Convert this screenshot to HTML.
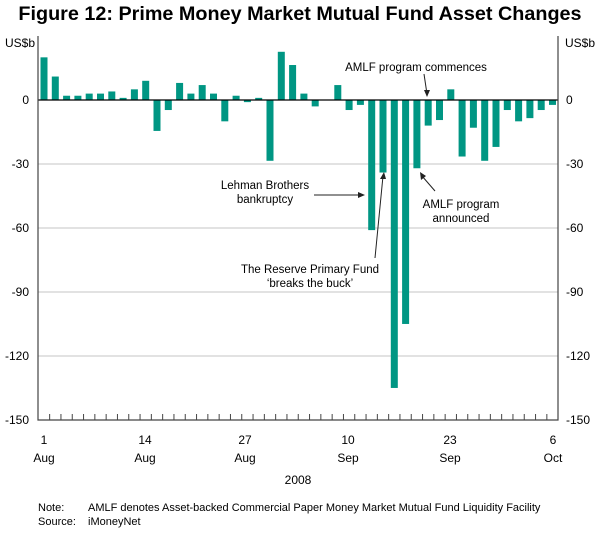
<!DOCTYPE html>
<html><head><meta charset="utf-8"><style>
body{margin:0;background:#fff;width:600px;height:531px;overflow:hidden}
svg text{font-family:"Liberation Sans",Arial,sans-serif;fill:#000}
</style></head><body>
<svg id="s" width="600" height="531" xmlns="http://www.w3.org/2000/svg">
<text x="300" y="20" font-size="19.8" font-weight="bold" text-anchor="middle">Figure 12: Prime Money Market Mutual Fund Asset Changes</text>
<g stroke="#c4c4c4" stroke-width="1">
<line x1="38" y1="164" x2="558" y2="164"/>
<line x1="38" y1="228" x2="558" y2="228"/>
<line x1="38" y1="292" x2="558" y2="292"/>
<line x1="38" y1="356" x2="558" y2="356"/>
</g>
<g id="bars" fill="#009683"></g>
<line x1="38" y1="100" x2="558" y2="100" stroke="#000" stroke-width="1.2"/>
<g stroke="#444" stroke-width="1.2" fill="none">
<polyline points="38,36 38,420 558,420 558,36"/>
</g>
<g id="ticks" stroke="#444" stroke-width="1"></g>
<g font-size="12">
<text x="5" y="47">US$b</text>
<text x="565" y="47">US$b</text>
<g text-anchor="end">
<text x="29" y="104">0</text><text x="29" y="168">-30</text><text x="29" y="232">-60</text><text x="29" y="296">-90</text><text x="29" y="360">-120</text><text x="29" y="424">-150</text>
</g>
<g>
<text x="566" y="104">0</text><text x="566" y="168">-30</text><text x="566" y="232">-60</text><text x="566" y="296">-90</text><text x="566" y="360">-120</text><text x="566" y="424">-150</text>
</g>
<g text-anchor="middle">
<text x="44" y="444">1</text><text x="44" y="462">Aug</text>
<text x="145" y="444">14</text><text x="145" y="462">Aug</text>
<text x="245" y="444">27</text><text x="245" y="462">Aug</text>
<text x="348" y="444">10</text><text x="348" y="462">Sep</text>
<text x="450" y="444">23</text><text x="450" y="462">Sep</text>
<text x="553" y="444">6</text><text x="553" y="462">Oct</text>
<text x="298" y="484">2008</text>
</g>
</g>
<g font-size="11.5" text-anchor="middle">
<text x="416" y="71">AMLF program commences</text>
<text x="461" y="208">AMLF program</text>
<text x="461" y="222">announced</text>
<text x="265" y="189">Lehman Brothers</text>
<text x="265" y="203">bankruptcy</text>
<text x="310" y="273">The Reserve Primary Fund</text>
<text x="310" y="287">‘breaks the buck’</text>
</g>
<g stroke="#222" stroke-width="1" fill="none">
<line x1="314" y1="195" x2="362" y2="195"/>
<line x1="375" y1="258" x2="383" y2="176"/>
<line x1="424" y1="74" x2="427" y2="94"/>
<line x1="435" y1="191" x2="422" y2="176"/>
</g>
<g fill="#222">
<polygon points="365,195 358,192 358,198"/>
<polygon points="384,172 380,179 386,179"/>
<polygon points="427,97 424,90 430,90"/>
<polygon points="420,172 421,180 426,176"/>
</g>
<g font-size="11" fill="#333">
<text x="38" y="511">Note:</text><text x="88" y="511">AMLF denotes Asset-backed Commercial Paper Money Market Mutual Fund Liquidity Facility</text>
<text x="38" y="525">Source:</text><text x="88" y="525">iMoneyNet</text>
</g>
</svg>
<script>
var v=[20,11,2,2,3,3,4,1,5,9,-14.5,-4.7,8,3,7,3,-10,2,-1,1,-28.5,22.6,16.4,3,-3,0,7,-4.7,-2.3,-61,-34,-135,-105,-32,-12,-9.4,5,-26.5,-13,-28.5,-22,-4.7,-10,-8.5,-4.7,-2.3];
var ns="http://www.w3.org/2000/svg",b=document.getElementById("bars"),t=document.getElementById("ticks");
for(var i=0;i<v.length;i++){var x=44+11.3*i,h=Math.abs(v[i])*2.133;
if(h>0){var r=document.createElementNS(ns,"rect");r.setAttribute("x",x-3.5);r.setAttribute("width",7);r.setAttribute("y",v[i]>0?100-h:100);r.setAttribute("height",h);b.appendChild(r);}
var l=document.createElementNS(ns,"line");var tx=x+5.65;if(tx<558){l.setAttribute("x1",tx);l.setAttribute("x2",tx);l.setAttribute("y1",414);l.setAttribute("y2",420);t.appendChild(l);}}
</script>
</body></html>
